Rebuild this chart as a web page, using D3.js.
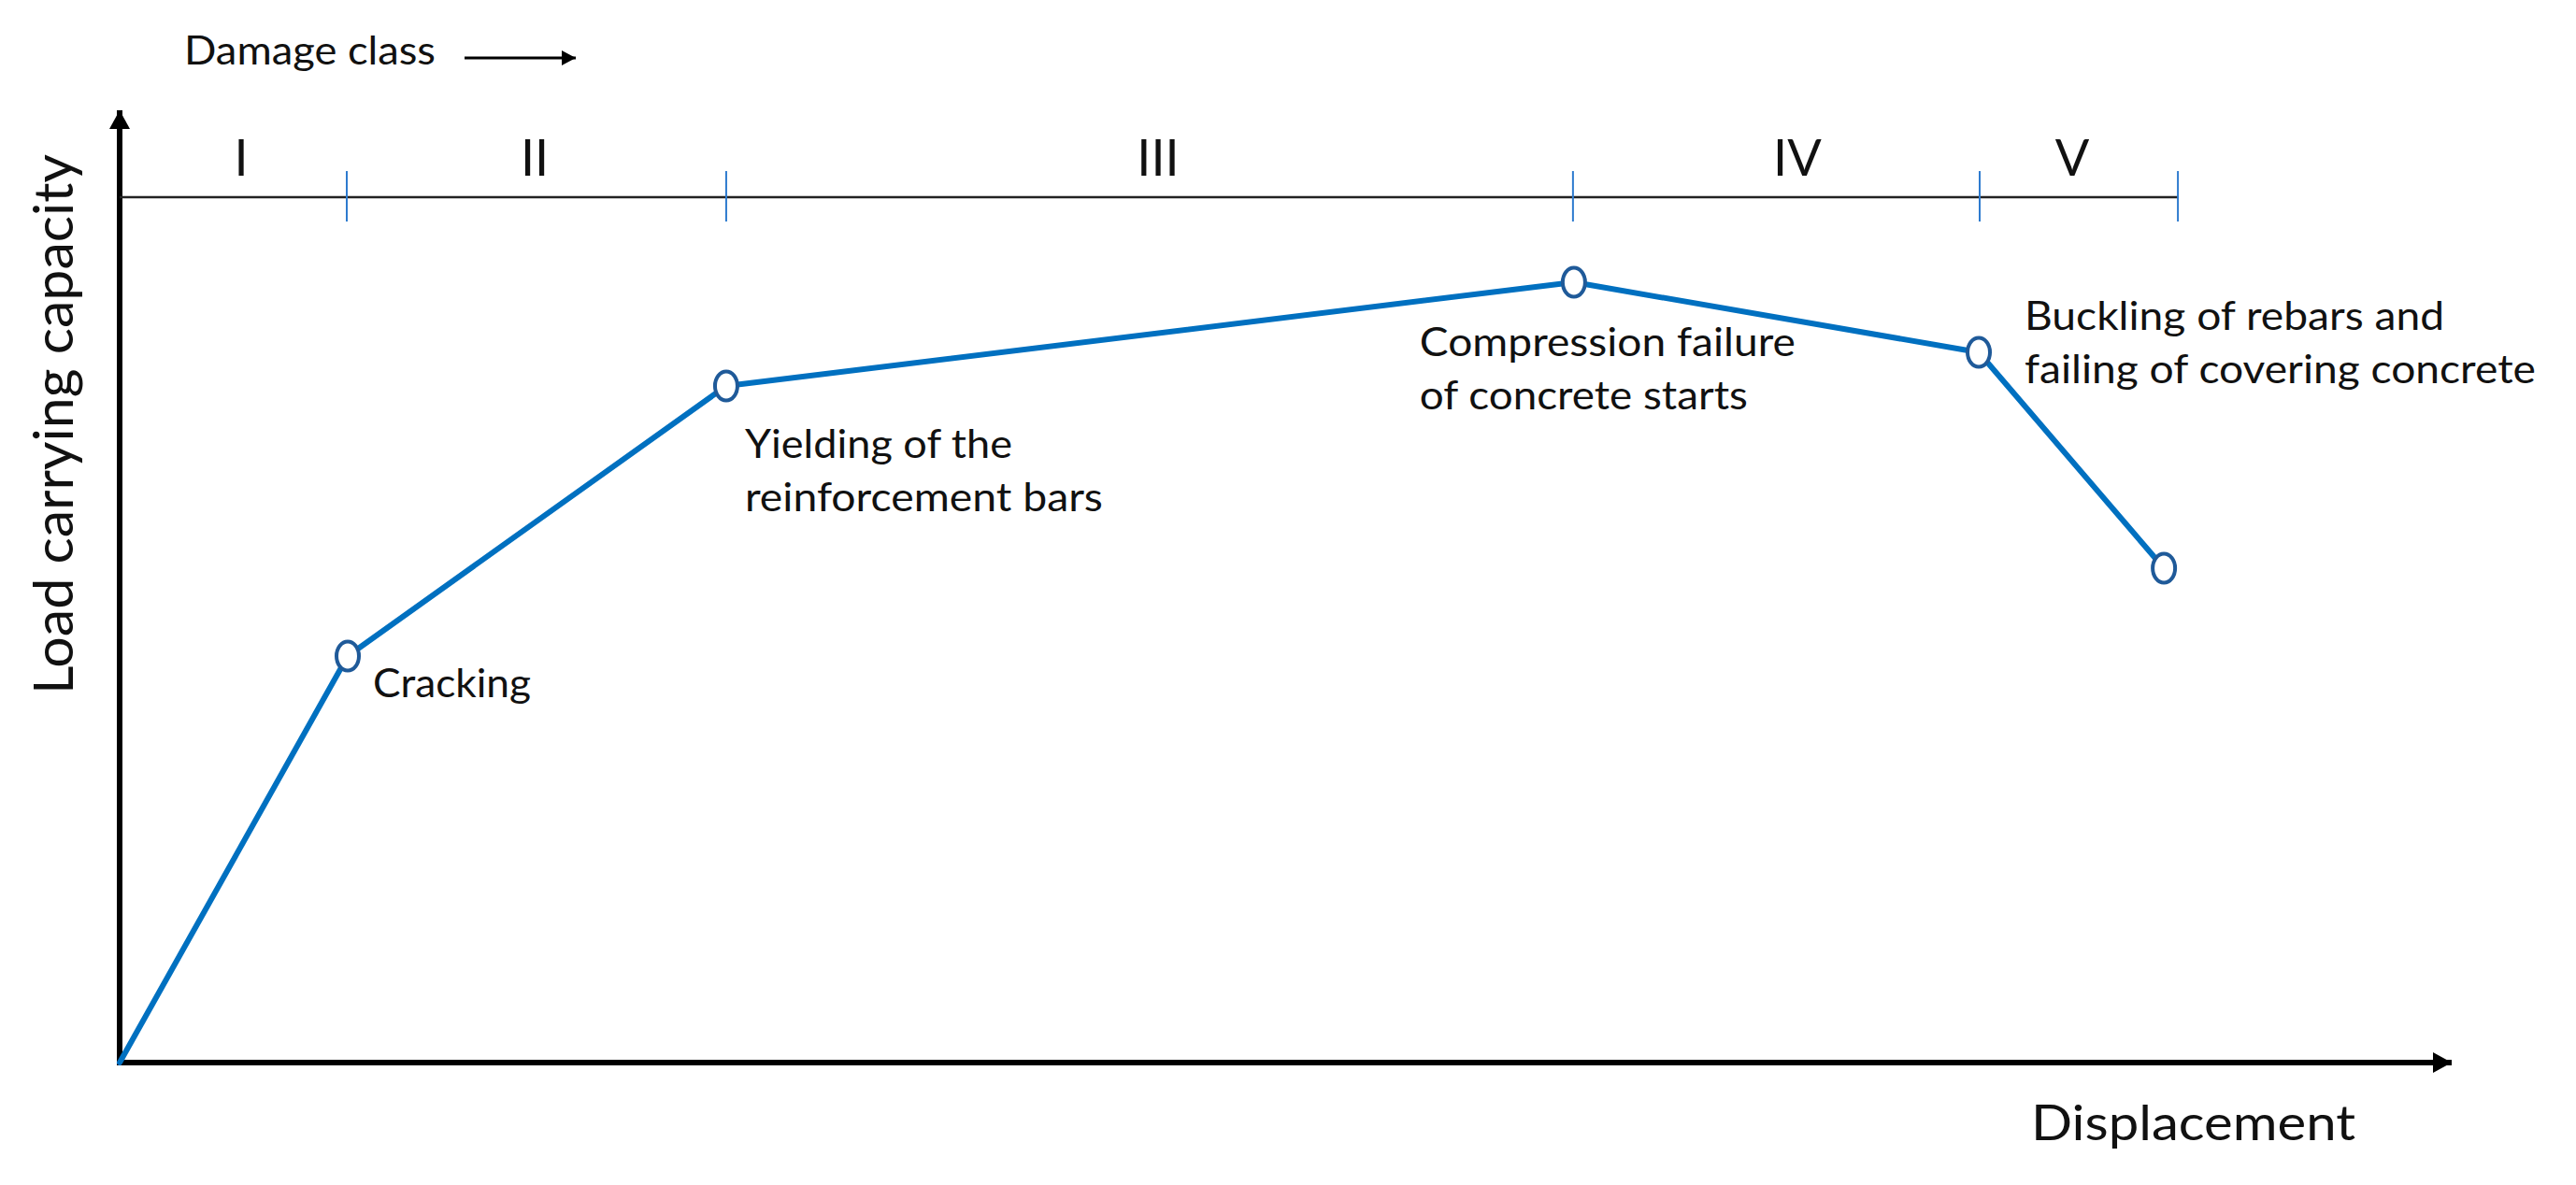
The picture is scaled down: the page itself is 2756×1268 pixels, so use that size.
<!DOCTYPE html>
<html>
<head>
<meta charset="utf-8">
<script src="https://cdn.jsdelivr.net/npm/d3@7"></script>
<style>
  html, body { margin: 0; padding: 0; background: #fff; }
  svg { display: block; }
  text { font-family: Lato, "Open Sans", sans-serif; fill: #111; }
</style>
</head>
<body>
<svg id="chart" width="2756" height="1268"></svg>
<script>
// ---- data (arbitrary units 0-100) ----
const displacement = [0, 9.78, 26.01, 62.36, 79.72, 87.66];
const loadCapacity = [0, 42.69, 71.05, 81.94, 74.58, 51.91];
const classBounds = [0, 9.74, 26.01, 62.32, 79.76, 88.26];
const classNames = ["I", "II", "III", "IV", "V"];
const classLabelX = [5.21, 17.80, 44.53, 71.94, 83.73];
const classLineLevel = 90.87;
const annotationPoint = [1, 2, 3, 4];
const annotationLines = [
  ["Cracking"],
  ["Yielding of the", "reinforcement bars"],
  ["Compression failure", "of concrete starts"],
  ["Buckling of rebars and", "failing of covering concrete"]
];
const xTitle = "Displacement";
const yTitle = "Load carrying capacity";
const classTitle = "Damage class";

// ---- layout ----
const svg = d3.select("#chart");
const x = d3.scaleLinear().domain([0, 100]).range([128, 2623]);
const y = d3.scaleLinear().domain([0, 100]).range([1137, 118]);

const lineBlue = "#0070C0";
const markerBlue = "#1F5A99";
const tickBlue = "#2E7BCF";

// arrow markers
const defs = svg.append("defs");
defs.append("marker").attr("id", "axisHead")
  .attr("viewBox", "0 0 20 22").attr("refX", 20).attr("refY", 11)
  .attr("markerWidth", 20).attr("markerHeight", 22)
  .attr("markerUnits", "userSpaceOnUse").attr("orient", "auto")
  .append("path").attr("d", "M0,0 L20,11 L0,22 Z").attr("fill", "#000");
defs.append("marker").attr("id", "smallHead")
  .attr("viewBox", "0 0 15 16").attr("refX", 15).attr("refY", 8)
  .attr("markerWidth", 15).attr("markerHeight", 16)
  .attr("markerUnits", "userSpaceOnUse").attr("orient", "auto")
  .append("path").attr("d", "M0,0 L15,8 L0,16 Z").attr("fill", "#000");

// axes
svg.append("line")
  .attr("x1", x(0)).attr("y1", y(0) + 3).attr("x2", x(0)).attr("y2", y(100))
  .attr("stroke", "#000").attr("stroke-width", 6).attr("marker-end", "url(#axisHead)");
svg.append("line")
  .attr("x1", x(0) - 3).attr("y1", y(0)).attr("x2", x(100)).attr("y2", y(0))
  .attr("stroke", "#000").attr("stroke-width", 6).attr("marker-end", "url(#axisHead)");

// damage class line and ticks
const classY = y(classLineLevel);
svg.append("line")
  .attr("x1", x(classBounds[0])).attr("x2", x(classBounds[classBounds.length - 1]))
  .attr("y1", classY).attr("y2", classY)
  .attr("stroke", "#222").attr("stroke-width", 2.5);
svg.append("g").selectAll("line").data(classBounds.slice(1)).join("line")
  .attr("x1", d => x(d)).attr("x2", d => x(d))
  .attr("y1", classY - 28).attr("y2", classY + 26)
  .attr("stroke", tickBlue).attr("stroke-width", 2);
svg.append("g").selectAll("text").data(classNames).join("text")
  .attr("x", (d, i) => x(classLabelX[i])).attr("y", 188)
  .attr("text-anchor", "middle").attr("font-size", 54)
  .text(d => d);

// damage class title + arrow
svg.append("text").attr("x", 197).attr("y", 69).attr("font-size", 43)
  .attr("textLength", 269).attr("lengthAdjust", "spacingAndGlyphs")
  .text(classTitle);
svg.append("line").attr("x1", 497).attr("x2", 616).attr("y1", 62).attr("y2", 62)
  .attr("stroke", "#000").attr("stroke-width", 3).attr("marker-end", "url(#smallHead)");

// curve
const pts = displacement.map((d, i) => [d, loadCapacity[i]]);
svg.append("path").datum(pts)
  .attr("fill", "none").attr("stroke", lineBlue).attr("stroke-width", 6)
  .attr("stroke-linejoin", "round").attr("stroke-linecap", "round")
  .attr("d", d3.line().x(d => x(d[0])).y(d => y(d[1])));
svg.append("g").selectAll("ellipse").data(pts.slice(1)).join("ellipse")
  .attr("cx", d => x(d[0])).attr("cy", d => y(d[1]))
  .attr("rx", 12).attr("ry", 15.5)
  .attr("fill", "#fff").attr("stroke", markerBlue).attr("stroke-width", 4);

// annotations
const annOffset = [[27, 44], [20, 77], [-165, 79], [49, -24]];
const annWidths = [[169], [286, 383], [402, 351], [449, 547]];
const lineGap = 57;
annotationLines.forEach((lines, k) => {
  const p = pts[annotationPoint[k]];
  const ax = x(p[0]) + annOffset[k][0];
  const ay = y(p[1]) + annOffset[k][1];
  lines.forEach((t, j) => {
    svg.append("text").attr("x", ax).attr("y", ay + j * lineGap)
      .attr("font-size", 42)
      .attr("textLength", annWidths[k][j]).attr("lengthAdjust", "spacingAndGlyphs")
      .text(t);
  });
});

// axis titles
svg.append("text").attr("x", 2173).attr("y", 1220).attr("font-size", 52)
  .attr("textLength", 347).attr("lengthAdjust", "spacingAndGlyphs")
  .text(xTitle);
svg.append("text")
  .attr("transform", "translate(78,743) rotate(-90)")
  .attr("font-size", 58)
  .attr("textLength", 578).attr("lengthAdjust", "spacingAndGlyphs")
  .text(yTitle);
</script>
</body>
</html>
